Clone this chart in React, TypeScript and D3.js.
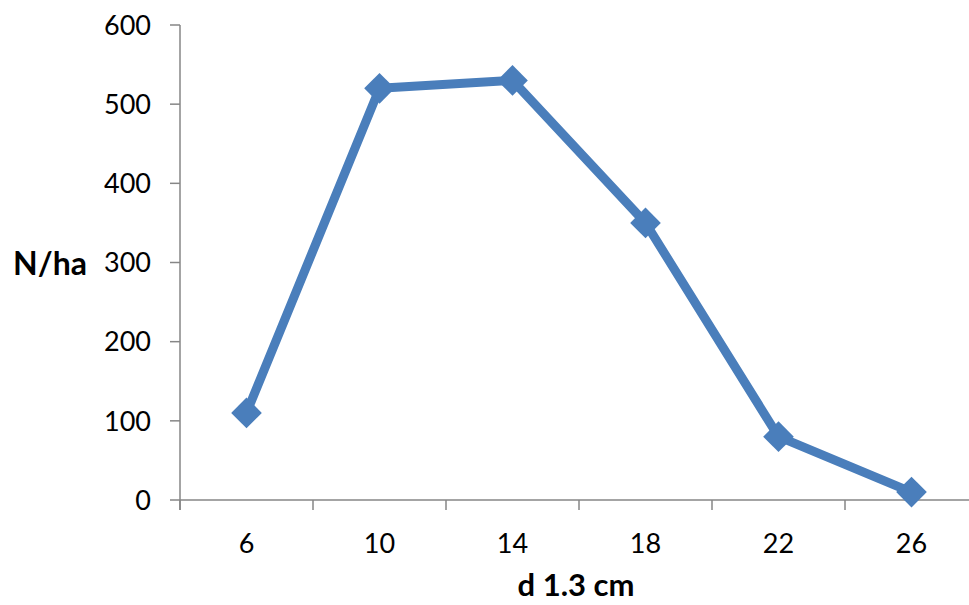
import React from "react";
import * as d3 from "d3";

const categories = ["6", "10", "14", "18", "22", "26"];
const values = [110, 520, 530, 350, 80, 10];
const yTicks = [0, 100, 200, 300, 400, 500, 600];

const W = 969;
const H = 605;
const COLOR = "#4a7ebb";
const AXIS = "#868686";
const FONT = "Lato, 'Open Sans', sans-serif";

export default function App() {
  const x = d3.scaleBand<string>().domain(categories).range([180, 978]).padding(0);
  const y = d3.scaleLinear().domain([0, 600]).range([500, 25]);
  const cx = (c: string) => (x(c) as number) + x.bandwidth() / 2;

  const line = d3
    .line<number>()
    .x((_, i) => cx(categories[i]))
    .y((v) => y(v));

  const bounds = categories.map((c) => x(c) as number).concat([x.range()[1]]);
  const marker = d3.symbol().type(d3.symbolSquare).size(470)();

  return (
    <svg
      width={W}
      height={H}
      style={{ position: "absolute", left: 0, top: 0, background: "#fff" }}
      fontFamily={FONT}
    >
      {/* y axis */}
      <line x1={180} x2={180} y1={y(600)} y2={510} stroke={AXIS} strokeWidth={1.5} />
      {yTicks.map((t) => (
        <g key={t}>
          <line x1={170} x2={180} y1={y(t)} y2={y(t)} stroke={AXIS} strokeWidth={1.5} />
          <text x={151} y={y(t)} dy="0.36em" textAnchor="end" fontSize={27} fill="#000">
            {t}
          </text>
        </g>
      ))}
      {/* x axis */}
      <line x1={180} x2={x.range()[1]} y1={y(0)} y2={y(0)} stroke={AXIS} strokeWidth={1.5} />
      {bounds.map((b, i) => (
        <line key={i} x1={b} x2={b} y1={y(0)} y2={510} stroke={AXIS} strokeWidth={1.5} />
      ))}
      {categories.map((c) => (
        <text key={c} x={cx(c)} y={543} dy="0.36em" textAnchor="middle" fontSize={27} fill="#000">
          {c}
        </text>
      ))}
      {/* series */}
      <path d={line(values) || ""} fill="none" stroke={COLOR} strokeWidth={9} strokeLinejoin="round" />
      {values.map((v, i) => (
        <path
          key={i}
          d={marker || ""}
          transform={`translate(${cx(categories[i])},${y(v)}) rotate(45)`}
          fill={COLOR}
        />
      ))}
      {/* titles */}
      <text x={50} y={263} dy="0.36em" textAnchor="middle" fontSize={32} fontWeight="bold" fill="#000">
        N/ha
      </text>
      <text x={576} y={585} dy="0.36em" textAnchor="middle" fontSize={31} fontWeight="bold" fill="#000">
        d 1.3 cm
      </text>
    </svg>
  );
}
